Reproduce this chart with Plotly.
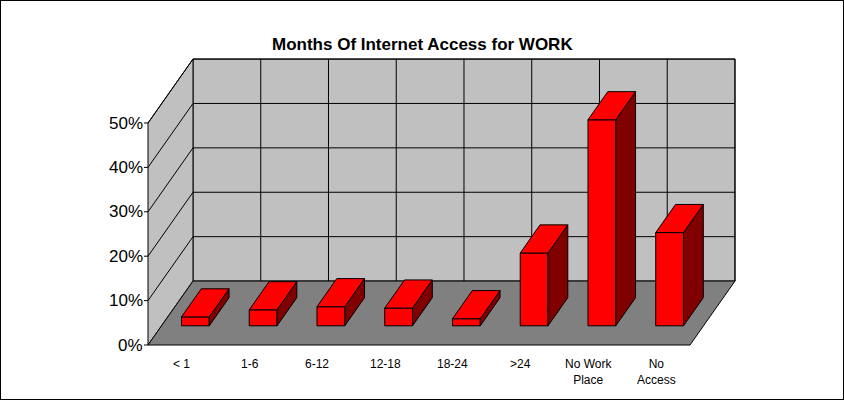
import plotly.graph_objects as go

# data
categories = ["< 1", "1-6", "6-12", "12-18", "18-24", ">24", "No Work<br>Place", "No<br>Access"]
values = [2.0, 3.6, 4.3, 4.0, 1.6, 16.4, 46.4, 21.0]
y_ticks = [0, 10, 20, 30, 40, 50]
y_tick_labels = ["0%", "10%", "20%", "30%", "40%", "50%"]

# fake 3d geometry (slot units on x, percent on y)
DX, DY = 0.664, 14.4      # full depth offset of the floor
Z0, Z1 = 0.3, 0.74        # depth where bars start / end
BW = 0.41                 # bar width in slots
N = len(categories)
YMAX = y_ticks[-1]

fig = go.Figure()

def poly(xs, ys, fill, line="black", width=1):
    fig.add_trace(go.Scatter(x=xs + [xs[0]], y=ys + [ys[0]], mode="lines",
                             fill="toself", fillcolor=fill,
                             line=dict(color=line, width=width),
                             hoverinfo="skip", showlegend=False))

def seg(xs, ys):
    fig.add_trace(go.Scatter(x=xs, y=ys, mode="lines", line=dict(color="black", width=1),
                             hoverinfo="skip", showlegend=False))

# walls and floor
poly([DX, N + DX, N + DX, DX], [DY, DY, YMAX + DY, YMAX + DY], "#c0c0c0")
poly([0, DX, DX, 0], [0, DY, YMAX + DY, YMAX], "#c0c0c0")
poly([0, N, N + DX, DX], [0, 0, DY, DY], "#808080")

# gridlines
for t in y_ticks[1:]:
    seg([0, DX, N + DX], [t, t + DY, t + DY])
for k in range(1, N + 1):
    seg([k + DX, k + DX], [DY, YMAX + DY])

# bars
for i, v in enumerate(values):
    x0 = i + (1 - BW) / 2
    x1 = x0 + BW
    fx0, fx1, fy = x0 + Z0 * DX, x1 + Z0 * DX, Z0 * DY
    bx1, by = x1 + Z1 * DX, Z1 * DY
    bx0 = x0 + Z1 * DX
    poly([fx0, fx1, fx1, fx0], [fy, fy, fy + v, fy + v], "#ff0000")
    poly([fx1, bx1, bx1, fx1], [fy, by, by + v, fy + v], "#800000")
    poly([fx0, fx1, bx1, bx0], [fy + v, fy + v, by + v, by + v], "#ff0000")

# axis labels
for t, lab in zip(y_ticks, y_tick_labels):
    fig.add_annotation(x=-0.05, y=t, text=lab, showarrow=False, xanchor="right",
                       font=dict(family="Liberation Sans", size=17, color="black"))
    seg([-0.06, 0], [t, t])
for i, c in enumerate(categories):
    fig.add_annotation(x=i + 0.5, y=-2.2, text=c, showarrow=False, yanchor="top",
                       font=dict(family="Liberation Sans", size=12, color="black"))

fig.add_annotation(x=0.5, y=1 - 33 / 400, xref="paper", yref="paper",
                   text="<b>Months Of Internet Access for WORK</b>", showarrow=False,
                   font=dict(family="Liberation Sans", size=17, color="black"))
fig.add_shape(type="rect", xref="paper", yref="paper", x0=0, y0=0, x1=1, y1=1,
              line=dict(color="black", width=2))

px_slot, px_pct = 67.75, 4.44
fig.update_layout(
    width=844, height=400, margin=dict(l=0, r=0, t=0, b=0),
    paper_bgcolor="white", plot_bgcolor="white",
    xaxis=dict(range=[-148 / px_slot, (844 - 148) / px_slot], visible=False, fixedrange=True),
    yaxis=dict(range=[-55 / px_pct, 345 / px_pct], visible=False, fixedrange=True),
)
fig.write_html("out.html", config={"displayModeBar": False},
               post_script="document.body.style.margin='0';document.body.style.overflow='hidden';")
